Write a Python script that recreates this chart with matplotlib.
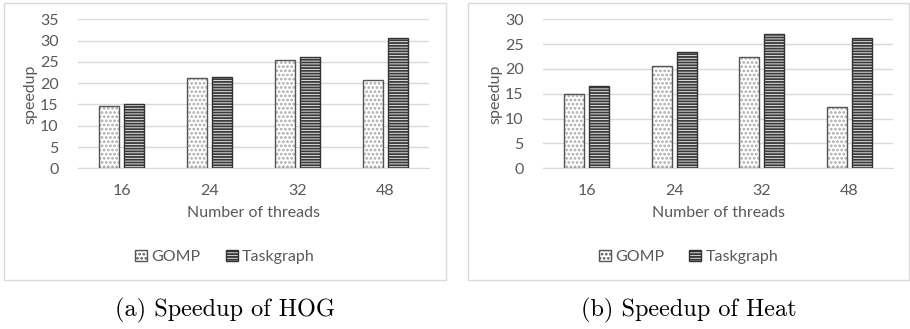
import matplotlib
matplotlib.use("Agg")
import matplotlib.pyplot as plt
from matplotlib.patches import Rectangle, Patch
import numpy as np

# data
threads = ["16", "24", "32", "48"]
hog_gomp = [14.7, 21.1, 25.4, 20.7]
hog_taskgraph = [15.0, 21.4, 26.1, 30.6]
heat_gomp = [15.0, 20.5, 22.4, 12.3]
heat_taskgraph = [16.5, 23.5, 27.1, 26.3]

plt.rcParams['font.family'] = ['Lato', 'DejaVu Sans']
plt.rcParams['hatch.linewidth'] = 1.3
grey_txt = '#595959'
W, H = 910, 329
fs = 11.5

fig = plt.figure(figsize=(W / 100, H / 100), dpi=100)


def px_axes(x0, y0, x1, y1):
    return fig.add_axes([x0 / W, 1 - y1 / H, (x1 - x0) / W, (y1 - y0) / H])


def draw_panel(ax, gomp, task, ymax, box, caption):
    x = np.arange(len(threads))
    w, off = 0.228, 0.142
    # GOMP: white with sparse grey dots
    ax.bar(x - off, gomp, w, color='white', edgecolor='#a8a8a8', hatch='....', lw=0, zorder=2)
    ax.bar(x - off, gomp, w, fill=False, edgecolor='#555555', lw=1.0, zorder=3)
    # Taskgraph: dense dark horizontal stripes
    ax.bar(x + off, task, w, color='#e0e0e0', edgecolor='#3a3a3a', hatch='------', lw=0, zorder=2)
    ax.bar(x + off, task, w, fill=False, edgecolor='#333333', lw=1.0, zorder=3)

    ax.set_xlim(-0.5, len(threads) - 0.5)
    ax.set_ylim(0, ymax)
    ax.set_yticks(np.arange(0, ymax + 1, 5))
    ax.set_xticks(x)
    ax.set_xticklabels(threads)
    ax.yaxis.grid(True, color='#d9d9d9', lw=1.0, zorder=0)
    ax.set_axisbelow(True)
    for s in ['top', 'right', 'left']:
        ax.spines[s].set_visible(False)
    ax.spines['bottom'].set_color('#d9d9d9')
    ax.tick_params(length=0, labelsize=fs, labelcolor=grey_txt)
    ax.tick_params(axis='y', pad=14)
    ax.tick_params(axis='x', pad=11)
    ax.set_xlabel('Number of threads', fontsize=fs, color=grey_txt, labelpad=6)
    ax.set_ylabel('speedup', fontsize=fs, color=grey_txt, labelpad=2)

    bx0, by0, bx1, by1 = box
    fig.patches.append(Rectangle((bx0 / W, 1 - by1 / H), (bx1 - bx0) / W, (by1 - by0) / H,
                                 transform=fig.transFigure, fill=False,
                                 edgecolor='#d9d9d9', lw=1.0))
    cx = (bx0 + bx1) / 2 / W
    handles = [Patch(facecolor='white', edgecolor='#555555', hatch='....', label='GOMP'),
               Patch(facecolor='#e0e0e0', edgecolor='#333333', hatch='------', label='Taskgraph')]
    fig.legend(handles=handles, loc='center', bbox_to_anchor=(cx, 1 - 257 / H), ncol=2,
               frameon=False, fontsize=fs, labelcolor=grey_txt,
               handlelength=0.75, handleheight=0.75, handletextpad=0.25, columnspacing=1.6)
    fig.text(cx, 1 - 310 / H, caption, ha='center', va='center', fontsize=17.5,
             family=['cmr10', 'DejaVu Serif'])


ax1 = px_axes(78, 19.3, 429, 168.3)
draw_panel(ax1, hog_gomp, hog_taskgraph, 35, (4, 3, 446, 280), '(a) Speedup of HOG')
ax2 = px_axes(543, 19.3, 893, 168.3)
draw_panel(ax2, heat_gomp, heat_taskgraph, 30, (468, 3, 909, 280), '(b) Speedup of Heat')

fig.savefig('out.png', dpi=100)
